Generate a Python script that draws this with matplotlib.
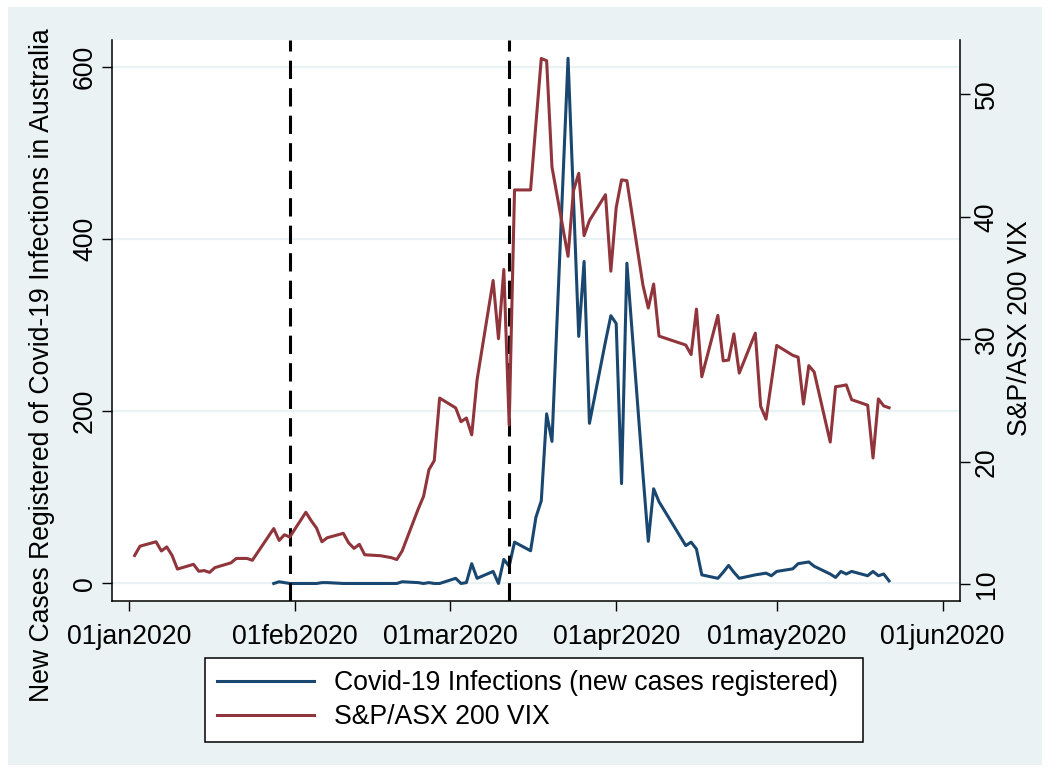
import matplotlib
matplotlib.use('Agg')
import matplotlib.pyplot as plt
import matplotlib.dates as mdates
from matplotlib.patches import Rectangle
from matplotlib.lines import Line2D
import pandas as pd
import numpy as np

plt.rcParams['font.family'] = ['Liberation Sans', 'DejaVu Sans']

# trading days (ASX), Jan 2 - May 22 2020
dates = (
    ['2020-01-%02d' % d for d in [2, 3, 6, 7, 8, 9, 10, 13, 14, 15, 16, 17, 20, 21, 22, 23, 24, 28, 29, 30, 31]]
    + ['2020-02-%02d' % d for d in [3, 4, 5, 6, 7, 10, 11, 12, 13, 14, 17, 18, 19, 20, 21, 24, 25, 26, 27, 28]]
    + ['2020-03-%02d' % d for d in [2, 3, 4, 5, 6, 9, 10, 11, 12, 13, 16, 17, 18, 19, 20, 23, 24, 25, 26, 27, 30, 31]]
    + ['2020-04-%02d' % d for d in [1, 2, 3, 6, 7, 8, 9, 14, 15, 16, 17, 20, 21, 22, 23, 24, 27, 28, 29, 30]]
    + ['2020-05-%02d' % d for d in [1, 4, 5, 6, 7, 8, 11, 12, 13, 14, 15, 18, 19, 20, 21, 22]]
)

# S&P/ASX 200 VIX
vix = [
    12.35, 13.11, 13.47, 12.72, 13.05, 12.35, 11.24, 11.63, 11.06, 11.12, 10.97, 11.36, 11.75, 12.11, 12.11, 12.11, 11.96, 14.55, 13.58, 14.04, 13.86,
    15.88, 15.19, 14.59, 13.47, 13.80, 14.16, 13.38, 12.93, 13.26, 12.41, 12.33, 12.25, 12.17, 12.02, 12.72, 16.15, 17.18, 19.35, 20.10, 25.20,
    24.40, 23.27, 23.57, 22.20, 26.70, 34.80, 30.05, 35.70, 23.00, 42.19, 42.19, 47.59, 52.92, 52.74, 44.06, 36.77, 42.10, 43.55, 38.46, 39.69, 41.80, 35.56,
    40.75, 43.01, 42.95, 34.42, 32.55, 34.51, 30.26, 29.53, 28.75, 32.46, 26.94, 31.95, 28.24, 28.30, 30.44, 27.24, 30.50, 24.53, 23.48, 26.49,
    29.50, 28.69, 28.54, 24.71, 27.85, 27.33, 21.61, 26.13, 26.19, 26.28, 25.07, 24.62, 20.31, 25.13, 24.56, 24.41,
]

# new covid-19 cases in Australia (missing before 28 Jan)
cases = (
    [np.nan] * 17 + [0, 2, 1, 0]
    + [0, 0, 0, 1, 1, 0, 0, 0, 0, 0, 0, 0, 0, 0, 2, 1, 0, 1, 0, 0]
    + [6, 0, 1, 23, 6, 14, 0, 28, 20, 48, 38, 77, 96, 197, 165, 610, 450, 287, 374, 186, 281, 311]
    + [302, 116, 372, 127, 49, 110, 95, 44, 48, 40, 10, 6, 13, 21, 13, 6, 10, 11, 12, 9]
    + [14, 17, 23, 24, 25, 20, 11, 7, 14, 11, 14, 9, 14, 9, 11, 3]
)

events = ['2020-01-31', '2020-03-12']
tick_dates = ['2020-01-01', '2020-02-01', '2020-03-01', '2020-04-01', '2020-05-01', '2020-06-01']
tick_labels = ['01jan2020', '01feb2020', '01mar2020', '01apr2020', '01may2020', '01jun2020']

navy = '#1a476f'
maroon = '#90353b'
bg = '#eaf2f3'

x = pd.to_datetime(dates)

fig = plt.figure(figsize=(10.5, 7.72), dpi=100)
fig.patch.set_facecolor('white')
fig.add_artist(Rectangle((8 / 1050, 7 / 772), 1034 / 1050, 758 / 772,
                         transform=fig.transFigure, facecolor=bg, edgecolor='none', zorder=-10))

ax = fig.add_axes([112 / 1050, 1 - 600.7 / 772, 847.7 / 1050, 561.2 / 772])
ax.set_facecolor('white')
ax2 = ax.twinx()

ax.plot(x, cases, color=navy, lw=2.2, zorder=2)
ax2.plot(x, vix, color=maroon, lw=2.2, zorder=2)
for d in pd.to_datetime(events):
    ax.axvline(d, color='black', lw=2.2, ls=(0, (6, 3)), zorder=3)

start = mdates.date2num(pd.Timestamp('2020-01-01'))
ax.set_xlim(start - 3.23, start + 155.2)
ax.set_ylim(-20, 631.8)
ax2.set_ylim(8.66, 54.47)

ax.set_xticks(pd.to_datetime(tick_dates))
ax.set_xticklabels(tick_labels)
ax.set_yticks([0, 200, 400, 600])
ax2.set_yticks([10, 20, 30, 40, 50])
ax.grid(axis='y', color=bg, lw=1.6, zorder=0)
ax.set_axisbelow(True)

ax.tick_params(axis='x', length=7, width=1, labelsize=19.2, pad=10)
ax.tick_params(axis='y', length=7, width=1, labelsize=19.2, pad=3, labelrotation=90)
ax2.tick_params(axis='y', length=7, width=1, labelsize=19.2, pad=3, labelrotation=90)
for lab in ax.get_yticklabels() + ax2.get_yticklabels():
    lab.set_va('center')

ax.spines['top'].set_visible(False)
ax2.spines['top'].set_visible(False)
ax2.spines['left'].set_visible(False)
ax2.spines['bottom'].set_visible(False)
ax.spines['right'].set_visible(False)
for s in ['left', 'bottom']:
    ax.spines[s].set_linewidth(1.1)
ax2.spines['right'].set_linewidth(1.1)

fig.text(42 / 1050, 1 - 365 / 772, 'New Cases Registered of Covid-19 Infections in Australia',
         rotation=90, ha='center', va='center', fontsize=19.2)
fig.text(1020 / 1050, 1 - 328 / 772, 'S&P/ASX 200 VIX',
         rotation=90, ha='center', va='center', fontsize=19.2)

handles = [Line2D([], [], color=navy, lw=2.2), Line2D([], [], color=maroon, lw=2.2)]
leg = fig.legend(handles, ['Covid-19 Infections (new cases registered)', 'S&P/ASX 200 VIX'],
                 loc='upper left', bbox_to_anchor=(205 / 1050, 1 - 746 / 772, 658 / 1050, 88 / 772),
                 mode='expand', fontsize=19.2, frameon=True, fancybox=False, framealpha=1,
                 edgecolor='black', borderpad=0.45, labelspacing=0.31,
                 handlelength=3.63, handletextpad=0.75, borderaxespad=0)
leg.get_frame().set_linewidth(1.1)

fig.savefig('out.png', dpi=100, facecolor=fig.get_facecolor())
